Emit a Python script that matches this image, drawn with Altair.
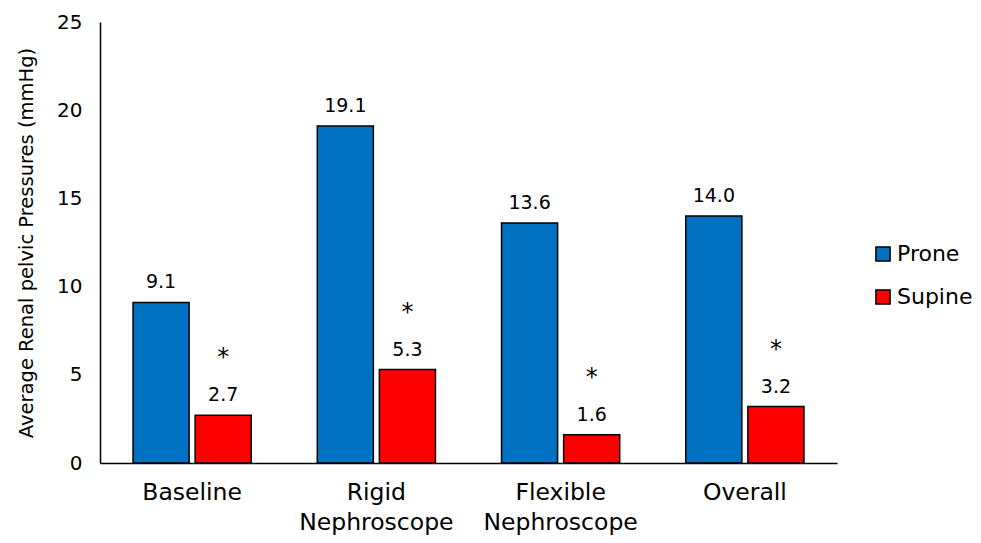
import altair as alt
import pandas as pd

categories = ["Baseline", "Rigid Nephroscope", "Flexible Nephroscope", "Overall"]
positions = ["Prone", "Supine"]
prone = [9.1, 19.1, 13.6, 14.0]
supine = [2.7, 5.3, 1.6, 3.2]
supine_sig = ["*", "*", "*", "*"]
colors = ["#0070C0", "#FF0000"]

rows = []
for i, c in enumerate(categories):
    rows.append({"category": c, "position": "Prone", "value": prone[i], "sig": ""})
    rows.append({"category": c, "position": "Supine", "value": supine[i], "sig": supine_sig[i]})
df = pd.DataFrame(rows)

FONT = "DejaVu Sans"

x = alt.X("category:N", sort=categories, title=None,
          scale=alt.Scale(paddingInner=0, paddingOuter=0),
          axis=alt.Axis(labelExpr="split(datum.label, ' ')", labelAngle=0,
                        labelFontSize=23.5, labelPadding=17, labelLineHeight=30,
                        ticks=False, domainColor="black", domainWidth=1.5,
                        labelColor="black", labelFont=FONT))
xo = alt.XOffset("position:N", sort=positions,
                 scale=alt.Scale(paddingInner=0.097, paddingOuter=0.532))
y = alt.Y("value:Q", title="Average Renal pelvic Pressures (mmHg)",
          scale=alt.Scale(domain=[0, 25], nice=False),
          axis=alt.Axis(values=[0, 5, 10, 15, 20, 25], ticks=False, grid=False,
                        domainColor="black", domainWidth=1.5,
                        labelFontSize=20, labelPadding=18, labelColor="black",
                        labelFont=FONT, titleFont=FONT, titleFontSize=19.5,
                        titleFontWeight="normal", titleColor="black",
                        titlePadding=20))

base = alt.Chart(df)

bars = base.mark_bar(stroke="black", strokeWidth=1.5).encode(
    x=x, xOffset=xo, y=y,
    color=alt.Color("position:N", sort=positions,
                    scale=alt.Scale(domain=positions, range=colors),
                    legend=alt.Legend(title=None, orient="none", legendX=772, legendY=221,
                                      symbolType="square", symbolSize=200,
                                      symbolStrokeColor="black", symbolStrokeWidth=1.5,
                                      labelFontSize=22, labelFont=FONT, labelColor="black",
                                      rowPadding=21, labelOffset=3)),
)

labels = base.mark_text(baseline="bottom", dy=-10, fontSize=19, font=FONT, color="black").encode(
    x=x, xOffset=xo, y="value:Q",
    text=alt.Text("value:Q", format=".1f"),
)

stars = base.mark_text(baseline="bottom", dy=-45, fontSize=24, font=FONT, color="black").encode(
    x=x, xOffset=xo, y="value:Q",
    text="sig:N",
)

chart = alt.layer(bars, labels, stars).properties(
    width=737, height=441,
    autosize=alt.AutoSizeParams(type="none"),
    padding={"left": 92, "top": 14, "right": 136, "bottom": 72},
).configure_view(stroke=None)

chart.save("out.html", embed_options={"renderer": "svg", "actions": False})
